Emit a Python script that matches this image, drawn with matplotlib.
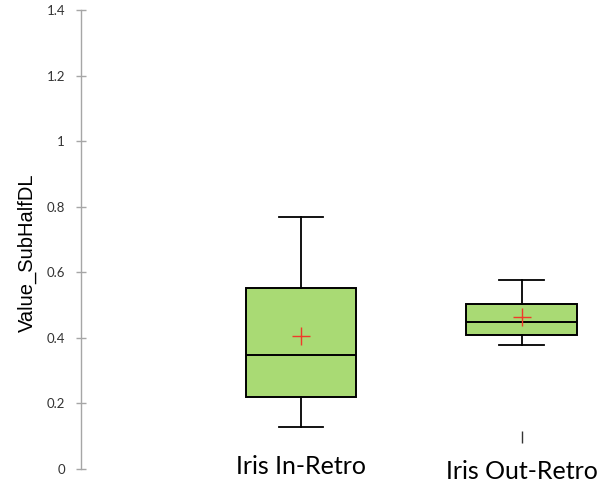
import matplotlib
matplotlib.use("Agg")
import matplotlib.pyplot as plt

# data
groups = ["Iris In-Retro", "Iris Out-Retro"]
whislo = [0.128, 0.378]
q1 = [0.221, 0.408]
med = [0.348, 0.448]
q3 = [0.553, 0.503]
whishi = [0.768, 0.576]
means = [0.406, 0.463]
fliers = [[], [0.099]]
label_y = [-0.015, -0.030]   # baselines of the two category labels
yticks = [0, 0.2, 0.4, 0.6, 0.8, 1.0, 1.2, 1.4]

fig = plt.figure(figsize=(6.03, 4.82), dpi=100)
ax = fig.add_axes([0.1343, 0.027, 0.8657, 0.952])

stats = []
for i in range(len(groups)):
    stats.append(dict(whislo=whislo[i], q1=q1[i], med=med[i], q3=q3[i],
                      whishi=whishi[i], mean=means[i], fliers=fliers[i]))

pos = [1, 2]
ax.bxp(stats, positions=pos, widths=0.5, patch_artist=True,
       showmeans=True, showfliers=True,
       boxprops=dict(facecolor="#a9da74", edgecolor="black", linewidth=1.4),
       medianprops=dict(color="black", linewidth=1.4),
       whiskerprops=dict(color="black", linewidth=1.3),
       capprops=dict(color="black", linewidth=1.3),
       capwidths=0.2,
       meanprops=dict(marker="+", markeredgecolor="#f03a2a", markersize=13,
                      markeredgewidth=1.0),
       flierprops=dict(marker="|", markeredgecolor="#333333", markersize=9,
                       markeredgewidth=1.0))

ax.set_xlim(0, 2.37)
ax.set_ylim(0, 1.4)

for sp in ["top", "right", "bottom"]:
    ax.spines[sp].set_visible(False)
ax.spines["left"].set_color("#a6a6a6")
ax.spines["left"].set_linewidth(1.0)

ax.set_xticks([])
ax.set_yticks(yticks)
ax.set_yticklabels(["%g" % t for t in yticks], fontfamily="Lato", fontsize=9.5,
                   color="#333333")
ax.tick_params(axis="y", direction="inout", length=7, width=1.0,
               color="#a6a6a6", pad=8)

# y label placed in figure coords (it sits well left of the tick labels)
fig.text(27.5 / 603, 1 - 253 / 482, "Value_SubHalfDL", rotation=90,
         ha="center", va="center", fontfamily="Liberation Sans", fontsize=14.5)

for i, g in enumerate(groups):
    ax.text(pos[i], label_y[i], g, ha="center", va="baseline", fontfamily="Lato",
            fontsize=18, color="black", clip_on=False)

fig.savefig("out.png", dpi=100)
